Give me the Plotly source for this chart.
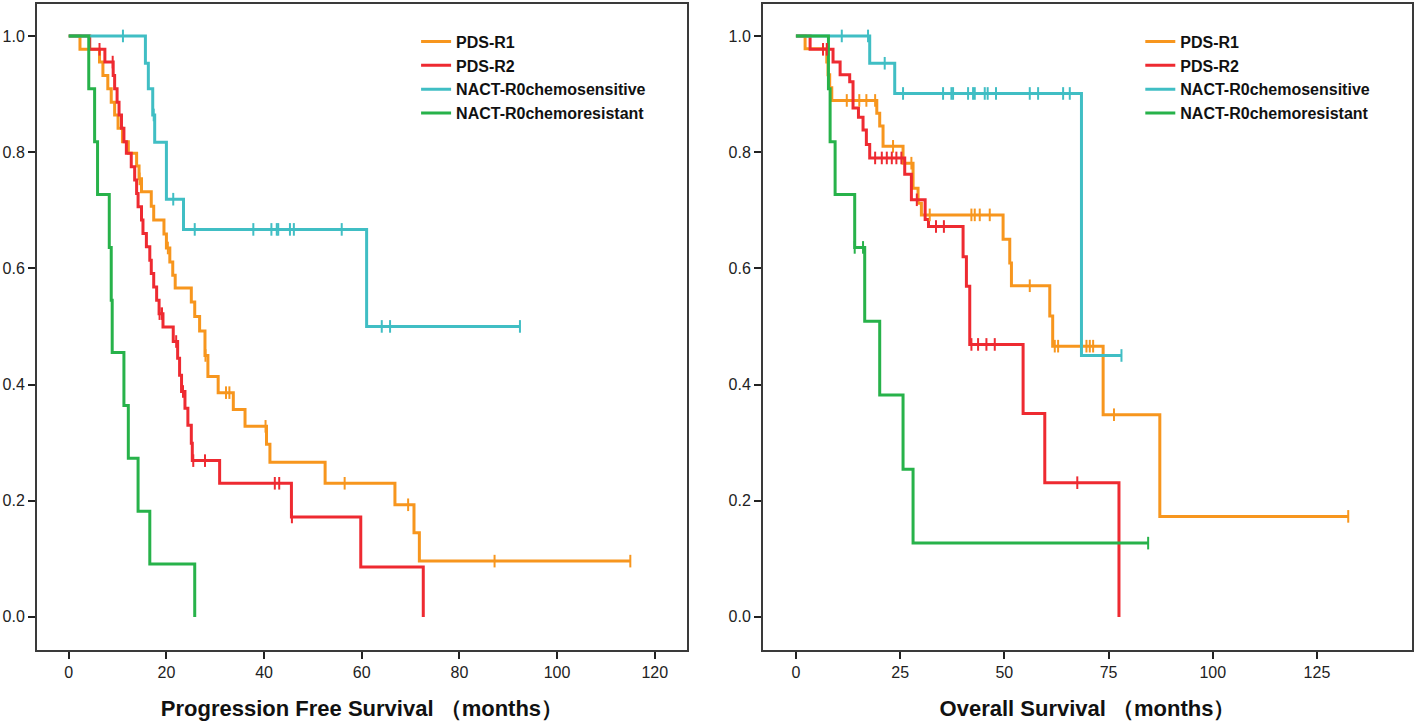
import plotly.graph_objects as go

# ---------------- DATA ----------------
group_names = ["PDS-R1", "PDS-R2", "NACT-R0chemosensitive", "NACT-R0chemoresistant"]
group_colors = ["#F7961E", "#EE2A31", "#40BEC4", "#27B24A"]

# Progression free survival (months) - event times and survival after each step
pfs_r1_times = [2.3, 6.3, 7.0, 8.0, 8.7, 9.4, 10.1, 11.0, 12.2, 13.9, 14.4, 14.9, 16.9, 17.4, 19.5, 20.0,
                20.7, 21.3, 21.8, 25.1, 25.8, 26.8, 27.9, 28.5, 30.6, 33.7, 36.1, 40.5, 41.2, 52.5,
                66.8, 70.7, 71.8]
pfs_r1_surv = [0.977, 0.955, 0.932, 0.909, 0.886, 0.864, 0.841, 0.818, 0.798, 0.776, 0.754, 0.732, 0.707,
               0.683, 0.659, 0.635, 0.611, 0.588, 0.566, 0.542, 0.517, 0.492, 0.450, 0.414, 0.386, 0.357,
               0.328, 0.297, 0.266, 0.230, 0.193, 0.145, 0.096]
pfs_r1_cens = [14.5, 20.3, 28.0, 32.2, 32.9, 40.3, 56.5, 69.5, 87.2, 115.0]

pfs_r2_times = [4.3, 7.4, 9.1, 9.4, 9.9, 10.3, 10.8, 11.3, 11.8, 12.8, 13.5, 13.9, 14.2, 14.9, 15.2, 15.9,
                16.6, 16.9, 17.4, 18.0, 18.5, 19.3, 21.4, 22.3, 22.7, 23.1, 23.8, 24.4, 25.1, 25.3, 30.9,
                45.6, 59.8, 72.6]
pfs_r2_surv = [0.977, 0.955, 0.932, 0.909, 0.886, 0.864, 0.841, 0.818, 0.798, 0.775, 0.752, 0.729, 0.706,
               0.683, 0.660, 0.637, 0.614, 0.591, 0.568, 0.545, 0.522, 0.499, 0.474, 0.445, 0.416, 0.388,
               0.359, 0.330, 0.299, 0.269, 0.230, 0.172, 0.086, 0.0]
pfs_r2_cens = [6.3, 9.0, 18.6, 19.1, 22.0, 23.4, 25.5, 27.9, 42.2, 43.1, 45.7]

pfs_sens_times = [15.7, 16.3, 17.2, 17.6, 20.0, 23.5, 61.0]
pfs_sens_surv = [0.953, 0.909, 0.864, 0.817, 0.719, 0.667, 0.500]
pfs_sens_cens = [11.1, 17.4, 21.4, 25.8, 37.8, 41.5, 42.6, 42.9, 45.3, 46.1, 55.9, 64.1, 65.8, 92.4]

pfs_res_times = [4.1, 5.3, 5.9, 8.3, 8.7, 8.9, 11.3, 12.2, 14.2, 16.6, 25.8]
pfs_res_surv = [0.909, 0.818, 0.727, 0.636, 0.545, 0.455, 0.364, 0.273, 0.182, 0.091, 0.0]
pfs_res_cens = []

# Overall survival (months)
os_r1_times = [2.2, 7.4, 7.7, 8.1, 8.6, 19.4, 20.1, 20.9, 25.7, 28.1, 29.3, 30.1, 49.7, 51.3, 51.7,
               60.9, 61.6, 73.7, 87.3]
os_r1_surv = [0.978, 0.955, 0.933, 0.911, 0.889, 0.867, 0.845, 0.810, 0.781, 0.738, 0.712, 0.692, 0.650,
              0.609, 0.570, 0.518, 0.466, 0.348, 0.173]
os_r1_cens = [12.2, 15.2, 16.9, 19.0, 23.3, 27.7, 32.1, 42.1, 42.9, 44.1, 46.5, 56.1, 62.1, 62.9, 69.7,
              70.5, 71.3, 76.3, 132.5]

os_r2_times = [3.4, 8.9, 10.6, 12.9, 13.7, 15.0, 16.1, 16.9, 17.7, 26.1, 27.7, 31.0, 31.8, 40.1, 40.9,
               41.7, 54.5, 59.7, 77.5]
os_r2_surv = [0.977, 0.955, 0.933, 0.921, 0.876, 0.860, 0.838, 0.813, 0.790, 0.762, 0.718, 0.684, 0.672,
              0.620, 0.569, 0.469, 0.350, 0.231, 0.0]
os_r2_cens = [6.5, 7.4, 19.0, 20.6, 21.8, 23.0, 24.1, 25.3, 29.0, 33.6, 35.5, 42.1, 43.7, 45.7, 47.7, 67.5]

os_sens_times = [17.7, 23.7, 68.5]
os_sens_surv = [0.953, 0.901, 0.450]
os_sens_cens = [11.0, 17.3, 21.3, 25.7, 35.3, 37.3, 37.7, 41.3, 42.5, 42.9, 45.3, 46.0, 48.0, 56.1, 58.1,
                64.1, 65.7, 78.1]

os_res_times = [7.8, 8.2, 9.4, 14.1, 16.5, 20.1, 25.7, 28.1]
os_res_surv = [0.909, 0.818, 0.727, 0.636, 0.509, 0.382, 0.254, 0.127]
os_res_cens = [14.1, 16.1, 84.5]

x_titles = ["Progression Free Survival （months）", "Overall Survival （months）"]
y_ticks = [0.0, 0.2, 0.4, 0.6, 0.8, 1.0]

pfs = [(pfs_r1_times, pfs_r1_surv, pfs_r1_cens), (pfs_r2_times, pfs_r2_surv, pfs_r2_cens),
       (pfs_sens_times, pfs_sens_surv, pfs_sens_cens), (pfs_res_times, pfs_res_surv, pfs_res_cens)]
osv = [(os_r1_times, os_r1_surv, os_r1_cens), (os_r2_times, os_r2_surv, os_r2_cens),
       (os_sens_times, os_sens_surv, os_sens_cens), (os_res_times, os_res_surv, os_res_cens)]


def surv_at(times, surv, t):
    s = 1.0
    for ti, si in zip(times, surv):
        if ti <= t:
            s = si
    return s


def step_xy(times, surv, cens):
    xs = [0.0] + list(times)
    ys = [1.0] + list(surv)
    if cens and max(cens) > xs[-1]:
        xs.append(max(cens))
        ys.append(ys[-1])
    return xs, ys


FONT = "Liberation Sans, Arial, sans-serif"
fig = go.Figure()

for panel, (data, xa, ya, leg) in enumerate([(pfs, "x", "y", "legend"), (osv, "x2", "y2", "legend2")]):
    for i, (times, surv, cens) in enumerate(data):
        xs, ys = step_xy(times, surv, cens)
        fig.add_trace(go.Scatter(x=xs, y=ys, mode="lines", line=dict(shape="hv", color=group_colors[i], width=3),
                                 name=group_names[i], xaxis=xa, yaxis=ya, legend=leg, showlegend=True))
    for i, (times, surv, cens) in enumerate(data):
        if cens:
            fig.add_trace(go.Scatter(x=cens, y=[surv_at(times, surv, c) for c in cens], mode="markers",
                                     marker=dict(symbol="line-ns-open", size=9, color=group_colors[i],
                                                 line=dict(color=group_colors[i], width=2)),
                                     xaxis=xa, yaxis=ya, showlegend=False, hoverinfo="skip"))

axis_common = dict(showline=True, mirror=True, linecolor="#3a3a3a", linewidth=2, ticks="outside",
                   ticklen=7, tickwidth=2, tickcolor="#222", showgrid=False, zeroline=False,
                   automargin=False, tickfont=dict(family=FONT, size=16, color="#222"))

legend_common = dict(xanchor="left", yanchor="top", bgcolor="rgba(0,0,0,0)",
                     font=dict(family=FONT, size=16, color="#111", weight="bold"), tracegroupgap=0,
                     itemwidth=30)

fig.update_layout(
    width=1418, height=725,
    paper_bgcolor="white", plot_bgcolor="white",
    margin=dict(l=37, r=6, t=4, b=75),
    font=dict(family=FONT),
    xaxis=dict(domain=[0, 0.4727], range=[-6.5, 126.6], tickvals=[0, 20, 40, 60, 80, 100, 120],
               title=dict(text="<b>" + x_titles[0] + "</b>", font=dict(family=FONT, size=22, color="#111"),
                          standoff=20), **axis_common),
    yaxis=dict(domain=[0, 1], range=[-0.057, 1.055], tickvals=y_ticks, tickformat=".1f", **axis_common),
    xaxis2=dict(domain=[0.528, 1.0], range=[-7.9, 147.8], tickvals=[0, 25, 50, 75, 100, 125],
                title=dict(text="<b>" + x_titles[1] + "</b>", font=dict(family=FONT, size=22, color="#111"),
                           standoff=20), anchor="y2", **axis_common),
    yaxis2=dict(domain=[0, 1], range=[-0.057, 1.055], tickvals=y_ticks, tickformat=".1f", anchor="x2",
                **axis_common),
    legend=dict(x=0.2757, y=0.968, **legend_common),
    legend2=dict(x=0.8024, y=0.968, **legend_common),
)

fig.write_html("out.html", config={"displayModeBar": False},
               post_script="document.body.style.margin='0';document.body.style.padding='0';")
